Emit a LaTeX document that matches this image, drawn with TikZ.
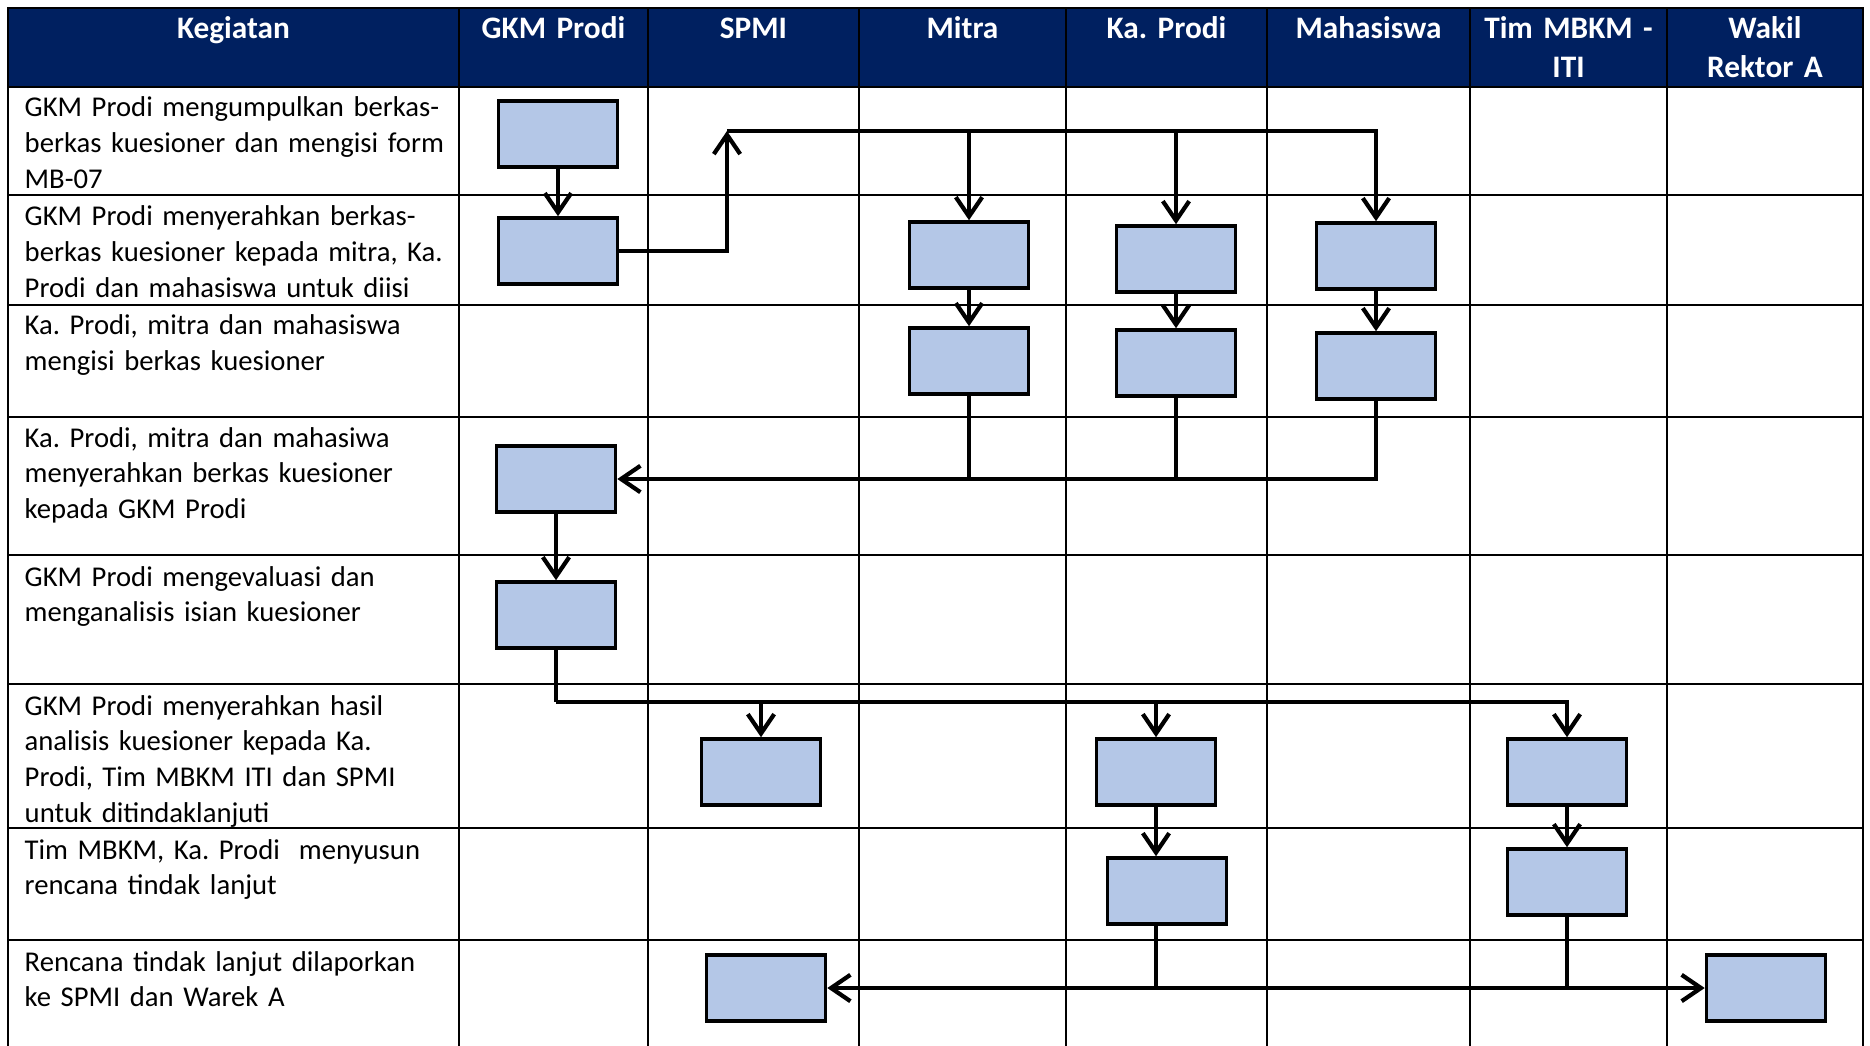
\documentclass[tikz,border=0pt]{standalone}
\usepackage{fontspec}
\setmainfont{Carlito}
\usetikzlibrary{arrows.meta}
\definecolor{navy}{RGB}{0,32,96}
\definecolor{boxblue}{RGB}{180,199,231}
\frenchspacing

\begin{document}
\begin{tikzpicture}[x=0.01cm, y=-0.01cm,
	rule/.style={line width=0.7pt},
	head/.style={anchor=base, text=white, font=\fontsize{8.9pt}{11pt}\selectfont\bfseries, align=center, text width=1.9cm, inner sep=0pt},
	act/.style={anchor=base west, font=\fontsize{8.15pt}{10.2pt}\selectfont, align=left, text width=4.35cm, inner sep=0pt},
	proc/.style={draw, line width=1pt, fill=boxblue, minimum width=1.19cm, minimum height=0.66cm, inner sep=0pt},
	link/.style={line width=1.2pt},
	flow/.style={link, -{Straight Barb[length=5.5pt,width=7.5pt]}},
	bothway/.style={link, {Straight Barb[length=5.5pt,width=7.5pt]}-{Straight Barb[length=5.5pt,width=7.5pt]}}]
	\useasboundingbox (0,0) rectangle (1870,1046);
	\fill[navy] (8,8) rectangle (1863,87);
	\draw[rule] (8,1046) -- (8,8) -- (1863,8) -- (1863,1046);
	\draw[rule] (8,87) -- (1863,87) (8,195) -- (1863,195) (8,305) -- (1863,305) (8,417) -- (1863,417);
	\draw[rule] (8,555) -- (1863,555) (8,684) -- (1863,684) (8,828) -- (1863,828) (8,940) -- (1863,940);
	\draw[rule] (459,8) -- (459,1046) (648,8) -- (648,1046) (859,8) -- (859,1046) (1066,8) -- (1066,1046);
	\draw[rule] (1267,8) -- (1267,1046) (1470,8) -- (1470,1046) (1667,8) -- (1667,1046);
	\node[head] (hkeg) at (233.5,39) {Kegiatan};
	\node[head] (hgkm) at (553.5,39) {GKM Prodi};
	\node[head] (hspmi) at (753.5,39) {SPMI};
	\node[head] (hmitra) at (962.5,39) {Mitra};
	\node[head] (hka) at (1166.5,39) {Ka. Prodi};
	\node[head] (hmhs) at (1368.5,39) {Mahasiswa};
	\node[head] (htim) at (1568.5,39) {Tim MBKM -\\ITI};
	\node[head] (hwr) at (1765,39) {Wakil\\Rektor A};
	\node[act] (r1) at (24,117) {GKM Prodi mengumpulkan berkas-\\berkas kuesioner dan mengisi form\\MB-07};
	\node[act] (r2) at (24,226) {GKM Prodi menyerahkan berkas-\\berkas kuesioner kepada mitra, Ka.\\Prodi dan mahasiswa untuk diisi};
	\node[act] (r3) at (24,335) {Ka. Prodi, mitra dan mahasiswa\\mengisi berkas kuesioner};
	\node[act] (r4) at (24,447) {Ka. Prodi, mitra dan mahasiwa\\menyerahkan berkas kuesioner\\kepada GKM Prodi};
	\node[act] (r5) at (24,586) {GKM Prodi mengevaluasi dan\\menganalisis isian kuesioner};
	\node[act] (r6) at (24,715) {GKM Prodi menyerahkan hasil\\analisis kuesioner kepada Ka.\\Prodi, Tim MBKM ITI dan SPMI\\untuk ditindaklanjuti};
	\node[act] (r7) at (24,859) {Tim MBKM, Ka. Prodi \ menyusun\\rencana tindak lanjut};
	\node[act] (r8) at (24,971) {Rencana tindak lanjut dilaporkan\\ke SPMI dan Warek A};
	\node[proc] (g1) at (558,134) {};
	\node[proc] (g2) at (558,251) {};
	\node[proc] (m2) at (969,255) {};
	\node[proc] (k2) at (1176,259) {};
	\node[proc] (h2) at (1376,256) {};
	\node[proc] (m3) at (969,361) {};
	\node[proc] (k3) at (1176,363) {};
	\node[proc] (h3) at (1376,366) {};
	\node[proc] (g4) at (556,479) {};
	\node[proc] (g5) at (556,615) {};
	\node[proc] (s6) at (761,772) {};
	\node[proc] (k6) at (1156,772) {};
	\node[proc] (t6) at (1567,772) {};
	\node[proc] (k7) at (1167,891) {};
	\node[proc] (t7) at (1567,882) {};
	\node[proc] (s8) at (766,988) {};
	\node[proc] (w8) at (1766,988) {};
	\coordinate (up) at (727,131);
	\coordinate (down) at (556,702);
	\draw[flow] (g1) -- (g2);
	\draw[flow] (g2.east) -| (up);
	\draw[flow] (up) -| (m2.north);
	\draw[flow] (up) -| (k2.north);
	\draw[flow] (up) -| (h2.north);
	\draw[flow] (m2) -- (m3);
	\draw[flow] (k2) -- (k3);
	\draw[flow] (h2) -- (h3);
	\draw[flow] (h3.south) |- (g4.east);
	\draw[link] (m3.south) -- (m3.south |- g4.east);
	\draw[link] (k3.south) -- (k3.south |- g4.east);
	\draw[flow] (g4) -- (g5);
	\draw[link] (g5.south) -- (down);
	\draw[flow] (down) -| (s6.north);
	\draw[flow] (down) -| (k6.north);
	\draw[flow] (down) -| (t6.north);
	\draw[flow] (k6.south) -- (k6.south |- k7.north);
	\draw[flow] (t6) -- (t7);
	\draw[link] (k6.south |- k7.south) -- (k6.south |- s8.east);
	\draw[link] (t7.south) -- (t7.south |- s8.east);
	\draw[bothway] (s8.east) -- (w8.west);
\end{tikzpicture}
\end{document}
